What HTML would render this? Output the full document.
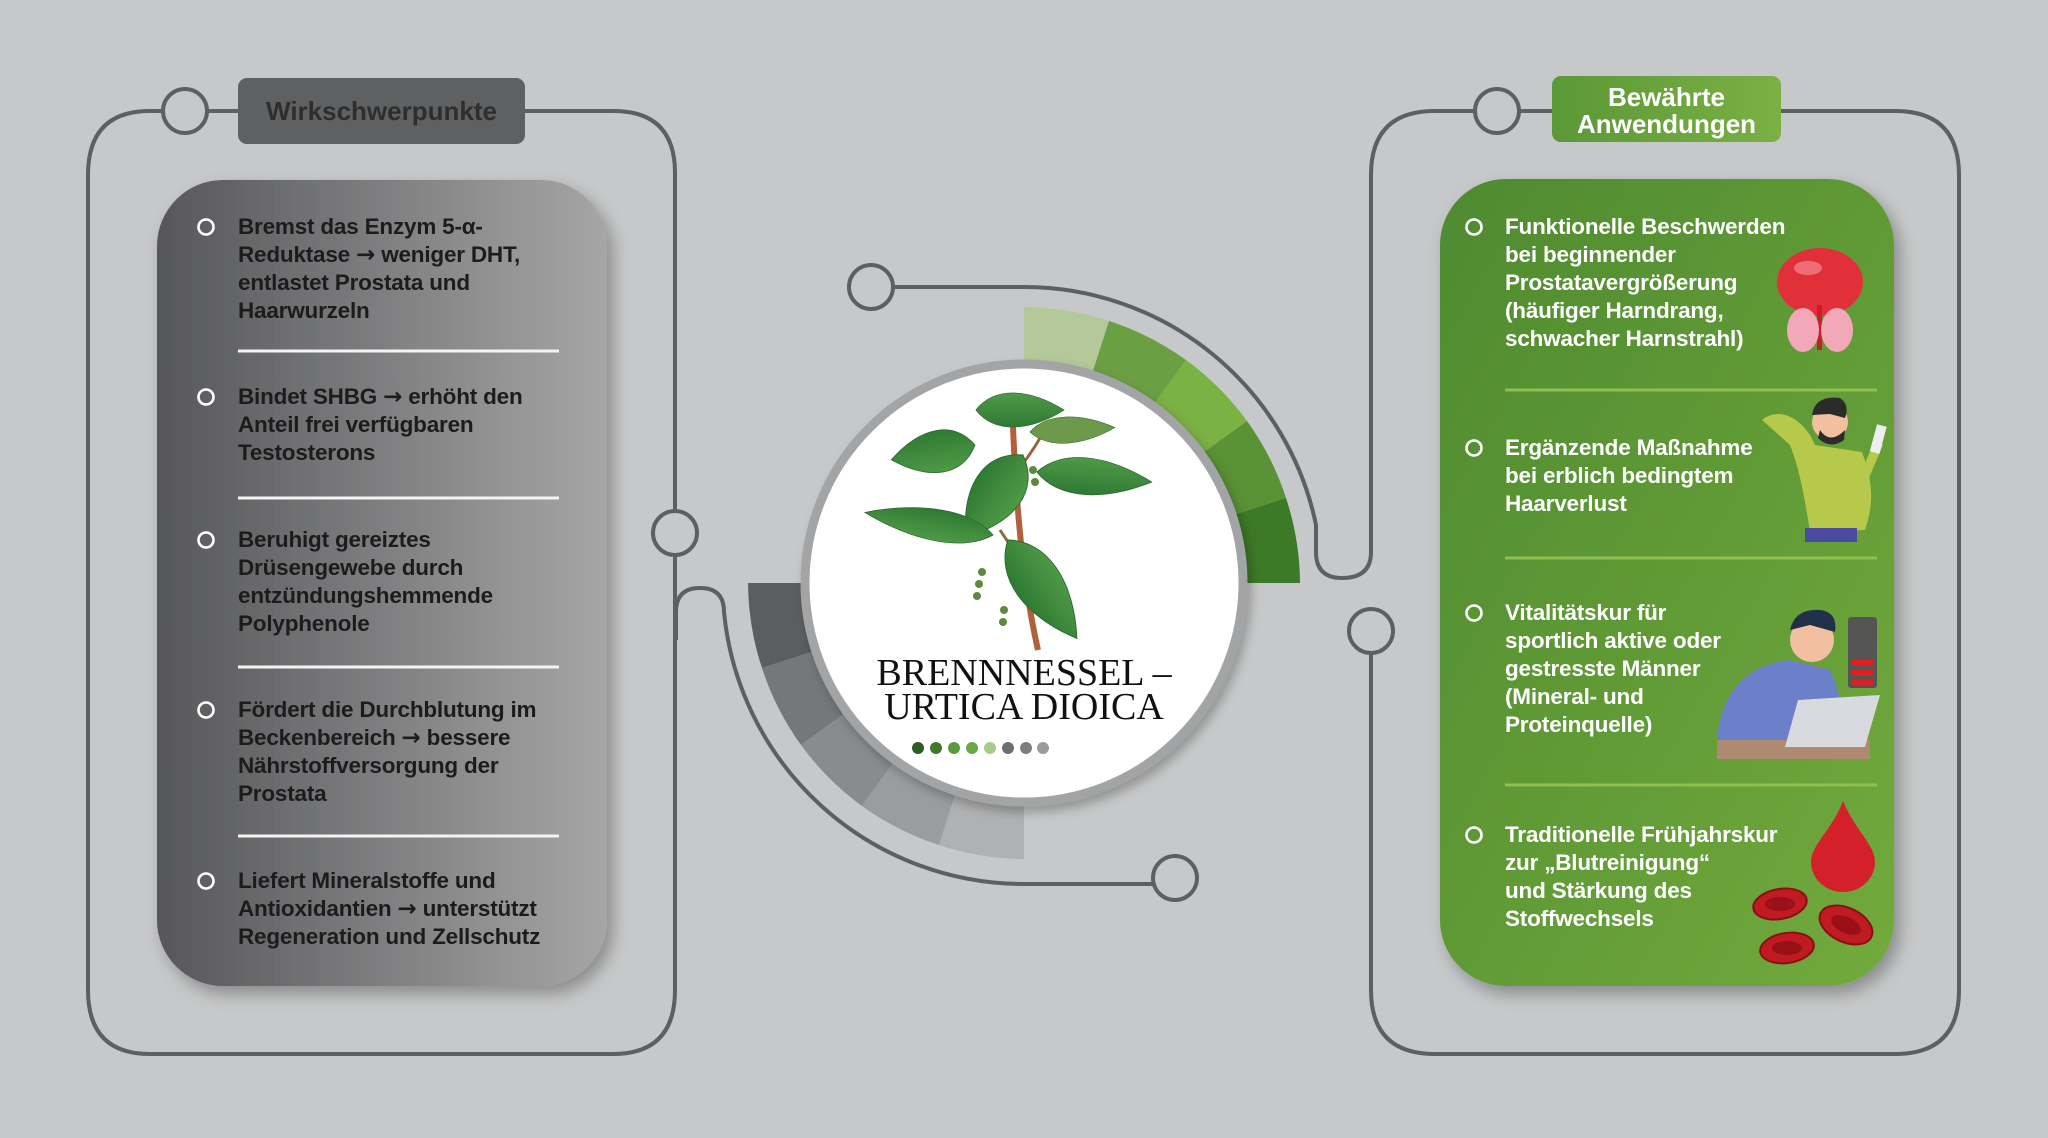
<!DOCTYPE html>
<html><head><meta charset="utf-8">
<style>
html,body{margin:0;padding:0}
body{width:2048px;height:1138px;background:#c7c8c9;position:relative;overflow:hidden;font-family:"Liberation Sans",sans-serif}
svg{position:absolute;left:0;top:0}
.t{position:absolute;font-weight:bold;font-size:22.5px;line-height:28px;letter-spacing:-0.2px;white-space:nowrap}
.l{color:#1c1c1c}
.r{color:#fff}
.a{font-family:"DejaVu Sans",sans-serif;font-weight:bold;font-size:23px}
.lab{position:absolute;font-weight:bold;text-align:center}
</style></head><body>
<svg width="2048" height="1138" viewBox="0 0 2048 1138">
<defs>
<linearGradient id="gp" x1="0" x2="1" y1="0" y2="0"><stop offset="0" stop-color="#56575a"/><stop offset="1" stop-color="#a6a6a6"/></linearGradient>
<linearGradient id="gg" x1="0" x2="1" y1="0" y2="1"><stop offset="0" stop-color="#4e8a30"/><stop offset="1" stop-color="#72aa3c"/></linearGradient>
<linearGradient id="gl" x1="0" x2="1"><stop offset="0" stop-color="#5b9837"/><stop offset="1" stop-color="#7bb044"/></linearGradient>
<linearGradient id="lf" x1="0" x2="0" y1="0" y2="1"><stop offset="0" stop-color="#4f9a46"/><stop offset="1" stop-color="#2f7a34"/></linearGradient>
<filter id="sh" x="-20%" y="-20%" width="140%" height="140%"><feDropShadow dx="6" dy="8" stdDeviation="8" flood-color="#000" flood-opacity="0.3"/></filter>
<filter id="sh2" x="-20%" y="-20%" width="140%" height="140%"><feDropShadow dx="4" dy="6" stdDeviation="5" flood-color="#000" flood-opacity="0.25"/></filter>
<path id="leaf" d="M0,0 C20,-36 60,-34 100,0 C60,34 20,36 0,0 Z"/>
</defs>
<g fill="none" stroke="#5e5f61" stroke-width="4">
<path d="M163,111 H150 Q88,111 88,175 V990 Q88,1054 150,1054 H613 Q675,1054 675,990 V555"/>
<path d="M525,111 H613 Q675,111 675,173 V511"/>
<path d="M676,640 V612 Q676,588 700,588 Q724,588 724,612 A301 301 0 0 0 1024,884 H1153"/>
<path d="M893,287 H1024 A298 298 0 0 1 1316,525 V552 Q1316,578 1342,578 Q1371,578 1371,552 V175 Q1371,111 1435,111 H1475"/>
<path d="M1780,111 H1895 Q1959,111 1959,175 V990 Q1959,1054 1895,1054 H1435 Q1371,1054 1371,990 V653"/>
<path d="M1519,111 H1552"/>
<path d="M207,111 H238"/>
<circle cx="185" cy="111" r="22"/>
<circle cx="675" cy="533" r="22"/>
<circle cx="1175" cy="878" r="22"/>
<circle cx="871" cy="287" r="22"/>
<circle cx="1497" cy="111" r="22"/>
<circle cx="1371" cy="631" r="22"/>
</g>
<rect x="238" y="78" width="287" height="66" rx="9" fill="#5f6062"/>
<rect x="1552" y="76" width="229" height="66" rx="9" fill="url(#gl)"/>
<rect x="157" y="180" width="450" height="806" rx="66" fill="url(#gp)" filter="url(#sh)"/>
<rect x="1440" y="179" width="454" height="807" rx="66" fill="url(#gg)" filter="url(#sh)"/>
<g fill="none" stroke="#fff" stroke-width="2.6">
<circle cx="206" cy="227" r="7.5"/><circle cx="206" cy="397" r="7.5"/><circle cx="206" cy="540" r="7.5"/><circle cx="206" cy="710" r="7.5"/><circle cx="206" cy="881" r="7.5"/>
<circle cx="1474" cy="227" r="7.5"/><circle cx="1474" cy="448" r="7.5"/><circle cx="1474" cy="613" r="7.5"/><circle cx="1474" cy="835" r="7.5"/>
</g>
<g stroke="#f4f4f4" stroke-width="3">
<line x1="238" y1="351" x2="559" y2="351"/><line x1="238" y1="498" x2="559" y2="498"/><line x1="238" y1="667" x2="559" y2="667"/><line x1="238" y1="836" x2="559" y2="836"/>
</g>
<g stroke="#8fc04f" stroke-width="3">
<line x1="1505" y1="390" x2="1877" y2="390"/><line x1="1505" y1="558" x2="1877" y2="558"/><line x1="1505" y1="785" x2="1877" y2="785"/>
</g>
<g transform="translate(1024,583)">
<path d="M0,-276 A276 276 0 0 1 85,-262 L67,-206 A217 217 0 0 0 0,-217Z" fill="#b3c99a"/>
<path d="M85,-262 A276 276 0 0 1 162,-223 L128,-176 A217 217 0 0 0 67,-206Z" fill="#6b9f44"/>
<path d="M162,-223 A276 276 0 0 1 223,-162 L176,-128 A217 217 0 0 0 128,-176Z" fill="#7ab244"/>
<path d="M223,-162 A276 276 0 0 1 262,-85 L206,-67 A217 217 0 0 0 176,-128Z" fill="#5a9236"/>
<path d="M262,-85 A276 276 0 0 1 276,0 L217,0 A217 217 0 0 0 206,-67Z" fill="#3d7a27"/>
<path d="M-276,0 A276 276 0 0 0 -262,85 L-206,67 A217 217 0 0 1 -217,0Z" fill="#5c5d5f"/>
<path d="M-262,85 A276 276 0 0 0 -223,162 L-176,128 A217 217 0 0 1 -206,67Z" fill="#767779"/>
<path d="M-223,162 A276 276 0 0 0 -162,223 L-128,176 A217 217 0 0 1 -176,128Z" fill="#8a8b8d"/>
<path d="M-162,223 A276 276 0 0 0 -85,262 L-67,206 A217 217 0 0 1 -128,176Z" fill="#9b9c9e"/>
<path d="M-85,262 A276 276 0 0 0 0,276 L0,217 A217 217 0 0 1 -67,206Z" fill="#b0b1b2"/>
<circle r="219" fill="#fff" stroke="#a3a4a6" stroke-width="9" filter="url(#sh2)"/>
</g>
<g>
<path d="M1013,427 C1016,500 1022,580 1038,650" stroke="#b0603a" stroke-width="6" fill="none"/>
<path d="M1018,470 C1030,455 1040,440 1050,420" stroke="#a06040" stroke-width="3" fill="none"/>
<path d="M1020,560 L1000,530" stroke="#8a7040" stroke-width="3" fill="none"/>
<g fill="url(#lf)" stroke="#2a6a2c" stroke-width="1">
<use href="#leaf" transform="translate(976,410) scale(0.88,0.65)"/>
<use href="#leaf" transform="translate(975,445) rotate(170) scale(0.85,0.8)"/>
<use href="#leaf" transform="translate(1030,432) rotate(-3) scale(0.85,0.5)" fill="#6c9a4a"/>
<use href="#leaf" transform="translate(1023,455) rotate(125) scale(1.0,0.95)"/>
<use href="#leaf" transform="translate(1037,472) rotate(5) scale(1.15,0.7)"/>
<use href="#leaf" transform="translate(993,535) rotate(-170) scale(1.3,0.6)"/>
<use href="#leaf" transform="translate(1008,540) rotate(55) scale(1.2,0.9)"/>
</g>
<g fill="#5d8a3e"><circle cx="982" cy="572" r="4"/><circle cx="979" cy="584" r="4"/><circle cx="977" cy="596" r="4"/><circle cx="1004" cy="610" r="4"/><circle cx="1003" cy="622" r="4"/><circle cx="1033" cy="470" r="4"/><circle cx="1035" cy="482" r="4"/></g>
</g>
<g>
<circle cx="918" cy="748" r="6" fill="#2e5d22"/><circle cx="936" cy="748" r="6" fill="#3f7a2e"/><circle cx="954" cy="748" r="6" fill="#5a9a3c"/><circle cx="972" cy="748" r="6" fill="#6aa948"/><circle cx="990" cy="748" r="6" fill="#a8cc8a"/><circle cx="1008" cy="748" r="6" fill="#6d6e70"/><circle cx="1026" cy="748" r="6" fill="#7d7e80"/><circle cx="1043" cy="748" r="6" fill="#9a9b9d"/>
</g>
<text x="1024" y="685" text-anchor="middle" font-family="Liberation Serif,serif" font-size="38" fill="#111">BRENNNESSEL –</text>
<text x="1024" y="719" text-anchor="middle" font-family="Liberation Serif,serif" font-size="38" fill="#111">URTICA DIOICA</text>
<ellipse cx="1820" cy="282" rx="43" ry="34" fill="#e2303a"/>
<ellipse cx="1808" cy="268" rx="14" ry="7" fill="#f28a8f" opacity="0.7"/>
<rect x="1817" y="305" width="5" height="45" fill="#c81e2a"/>
<ellipse cx="1803" cy="330" rx="16" ry="22" fill="#f2a8b8"/>
<ellipse cx="1837" cy="330" rx="16" ry="22" fill="#f2a8b8"/>
<path d="M1762,420 C1780,405 1805,420 1815,445 L1862,452 C1872,480 1875,500 1865,530 L1810,532 C1805,500 1800,470 1790,445 Z" fill="#b6c94a"/>
<path d="M1862,470 L1875,440 L1883,445 L1868,480 Z" fill="#b6c94a"/>
<rect x="1873" y="425" width="10" height="28" fill="#eee" transform="rotate(15 1878 440)"/>
<rect x="1805" y="528" width="52" height="14" fill="#4b4aa0"/>
<circle cx="1830" cy="422" r="18" fill="#f2c0a0"/>
<path d="M1812,415 Q1815,395 1840,398 Q1850,405 1845,418 L1830,414 Z" fill="#2b2b2b"/>
<path d="M1820,430 Q1830,445 1845,430 L1844,440 Q1830,450 1818,438 Z" fill="#2b2b2b"/>
<path d="M1717,740 C1720,700 1740,665 1790,660 L1830,670 C1840,690 1845,720 1845,740 Z" fill="#6b80c8"/>
<circle cx="1812" cy="640" r="22" fill="#f2c0a0"/>
<path d="M1790,630 Q1795,608 1820,610 Q1838,612 1835,632 L1810,625 Z" fill="#22304a"/>
<rect x="1848" y="617" width="29" height="71" rx="3" fill="#555"/>
<rect x="1852" y="660" width="21" height="6" fill="#e02020"/><rect x="1852" y="670" width="21" height="6" fill="#e02020"/><rect x="1852" y="680" width="21" height="5" fill="#e02020"/>
<rect x="1717" y="740" width="153" height="19" fill="#b08a70"/>
<path d="M1798,700 L1880,695 L1865,747 L1785,747 Z" fill="#d8dae0"/>
<path d="M1843,801 C1855,830 1875,845 1875,862 A32 30 0 0 1 1811,862 C1811,845 1832,830 1843,801 Z" fill="#d4202a"/>
<g fill="#c01a22" stroke="#8a0f15" stroke-width="2">
<ellipse cx="1780" cy="904" rx="27" ry="15" transform="rotate(-10 1780 904)"/>
<ellipse cx="1846" cy="925" rx="28" ry="17" transform="rotate(25 1846 925)"/>
<ellipse cx="1787" cy="948" rx="27" ry="15" transform="rotate(-8 1787 948)"/>
</g>
<g fill="#9a1018"><ellipse cx="1780" cy="904" rx="15" ry="7"/><ellipse cx="1846" cy="925" rx="16" ry="8" transform="rotate(25 1846 925)"/><ellipse cx="1787" cy="948" rx="15" ry="7"/></g>
</svg>
<div class="lab" style="left:238px;top:78px;width:287px;height:66px;line-height:66px;font-size:26px;color:#2e2e2e">Wirkschwerpunkte</div>
<div class="lab" style="left:1552px;top:84px;width:229px;font-size:26px;line-height:27px;color:#fff">Bewährte<br>Anwendungen</div>

<div class="t l" style="left:238px;top:213px">Bremst das Enzym 5-α-<br>Reduktase <span class="a">→</span> weniger DHT,<br>entlastet Prostata und<br>Haarwurzeln</div>
<div class="t l" style="left:238px;top:383px">Bindet SHBG <span class="a">→</span> erhöht den<br>Anteil frei verfügbaren<br>Testosterons</div>
<div class="t l" style="left:238px;top:526px">Beruhigt gereiztes<br>Drüsengewebe durch<br>entzündungshemmende<br>Polyphenole</div>
<div class="t l" style="left:238px;top:696px">Fördert die Durchblutung im<br>Beckenbereich <span class="a">→</span> bessere<br>Nährstoffversorgung der<br>Prostata</div>
<div class="t l" style="left:238px;top:867px">Liefert Mineralstoffe und<br>Antioxidantien <span class="a">→</span> unterstützt<br>Regeneration und Zellschutz</div>

<div class="t r" style="left:1505px;top:213px">Funktionelle Beschwerden<br>bei beginnender<br>Prostatavergrößerung<br>(häufiger Harndrang,<br>schwacher Harnstrahl)</div>
<div class="t r" style="left:1505px;top:434px">Ergänzende Maßnahme<br>bei  erblich bedingtem<br>Haarverlust</div>
<div class="t r" style="left:1505px;top:599px">Vitalitätskur für<br>sportlich aktive oder<br>gestresste Männer<br>(Mineral- und<br>Proteinquelle)</div>
<div class="t r" style="left:1505px;top:821px">Traditionelle Frühjahrskur<br>zur „Blutreinigung“<br>und Stärkung des<br>Stoffwechsels</div>
</body></html>
